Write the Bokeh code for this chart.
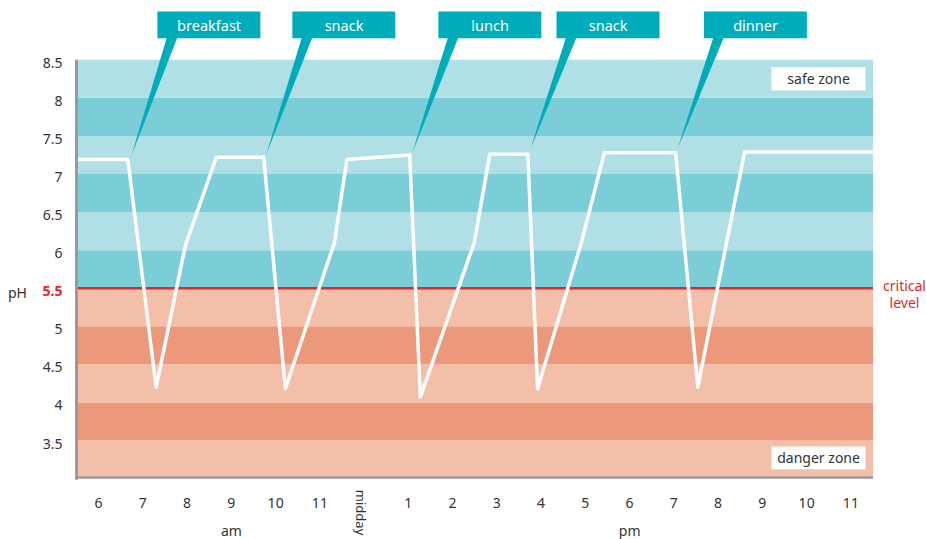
import math
from bokeh.plotting import figure
from bokeh.models import ColumnDataSource, Range1d
from bokeh.core.properties import value
from bokeh.embed import file_html
from bokeh.resources import INLINE

# ---------------- data ----------------
hours = [5.5, 6.66, 7.30, 7.96, 8.66, 9.73, 10.22, 11.33, 11.61, 13.03, 13.27,
         14.49, 14.84, 15.70, 15.92, 16.91, 17.43, 19.04, 19.54, 20.60, 23.5]
ph = [7.19, 7.19, 4.20, 6.06, 7.22, 7.22, 4.18, 6.10, 7.19, 7.25, 4.07,
      6.10, 7.26, 7.26, 4.18, 6.10, 7.28, 7.28, 4.20, 7.29, 7.29]

meal_names = ["breakfast", "snack", "lunch", "snack", "dinner"]
meal_times = [6.74, 9.79, 13.09, 15.76, 19.09]
meal_tip_ph = [7.24, 7.26, 7.28, 7.33, 7.34]

band_bottoms = [3.0, 3.5, 4.0, 4.5, 5.0, 5.5, 6.0, 6.5, 7.0, 7.5, 8.0]
band_tops = [3.5, 4.0, 4.5, 5.0, 5.5, 6.0, 6.5, 7.0, 7.5, 8.0, 8.5]
band_colors = ["#F4BFA8", "#EC987B", "#F4BFA8", "#EC987B", "#F4BFA8",
               "#7BCDD8", "#B0DFE6", "#7BCDD8", "#B0DFE6", "#7BCDD8", "#B0DFE6"]

x_start, x_end = 5.5, 23.5
y_start, y_end = 3.0, 8.5
critical_ph = 5.5

x_ticks = list(range(6, 24))
x_tick_labels = ["6", "7", "8", "9", "10", "11", "midday", "1", "2", "3", "4",
                 "5", "6", "7", "8", "9", "10", "11"]
y_ticks = [3.5, 4.0, 4.5, 5.0, 5.5, 6.0, 6.5, 7.0, 7.5, 8.0, 8.5]
y_tick_labels = ["3.5", "4", "4.5", "5", "5.5", "6", "6.5", "7", "7.5", "8", "8.5"]

period_labels = ["am", "pm"]
period_centers = [9, 18]

# ---------------- style ----------------
FONT = "Noto Sans"
TXT = "#333333"
RED = "#E3282C"
TEAL = "#00ACBA"
GRAY = "#9A9A9A"
PXH = 44.25   # pixels per hour
PXU = 76.15   # pixels per pH unit
W, H = 926, 539
X0PX, Y55PX = 76, 287.7   # canvas position of x_start and of pH 5.5

p = figure(width=W, height=H, output_backend="svg", toolbar_location=None,
           x_range=Range1d(x_start - X0PX / PXH, x_start + (W - X0PX) / PXH),
           y_range=Range1d(critical_ph - (H - Y55PX) / PXU, critical_ph + Y55PX / PXU),
           min_border=0, title=None)
p.outline_line_color = None
p.grid.visible = False
p.axis.visible = False
p.background_fill_color = "white"
p.border_fill_color = "white"

# bands
p.quad(left=[x_start] * len(band_bottoms), right=[x_end] * len(band_bottoms),
       bottom=band_bottoms, top=band_tops, fill_color=band_colors, line_color=None)

# critical line
p.segment(x0=[x_start], x1=[x_end], y0=[critical_ph], y1=[critical_ph],
          line_color=RED, line_width=2.5)

# pH curve
p.line(hours, ph, line_color="white", line_width=3.5, line_join="round")

# axis lines
p.segment(x0=[x_start], x1=[x_start], y0=[y_start - 1.2 / PXU], y1=[y_end],
          line_color=GRAY, line_width=3)
p.segment(x0=[x_start - 1.5 / PXH], x1=[x_end], y0=[y_start + 1.2 / PXU], y1=[y_start + 1.2 / PXU],
          line_color=GRAY, line_width=2.5)

# zone labels
zone_src = ColumnDataSource(dict(
    left=[21.206, 21.206], right=[23.33, 23.33], bottom=[8.096, 3.123], top=[8.402, 3.421],
    tx=[22.27, 22.27], ty=[8.249, 3.272], text=["safe zone", "danger zone"]))
p.quad(left="left", right="right", bottom="bottom", top="top", source=zone_src,
       fill_color="white", line_color=None)
p.text(x="tx", y="ty", text="text", source=zone_src, text_align="center",
       text_baseline="middle", text_color=TXT, text_font=value(FONT), text_font_size="14px")

# callouts
box_bottom, box_top = 8.783, 9.134
c_left = [t + 26 / PXH for t in meal_times]
c_right = [t + 129 / PXH for t in meal_times]
c_mid = [t + 77.7 / PXH for t in meal_times]
tri_xs = [[t, t + 35.7 / PXH, t + 46.3 / PXH] for t in meal_times]
tri_ys = [[tp, box_bottom + 0.02, box_bottom + 0.02] for tp in meal_tip_ph]
p.patches(xs=tri_xs, ys=tri_ys, fill_color=TEAL, line_color=None)
p.quad(left=c_left, right=c_right, bottom=[box_bottom] * 5, top=[box_top] * 5,
       fill_color=TEAL, line_color=None)
p.text(x=c_mid, y=[(box_bottom + box_top) / 2] * 5, text=meal_names, text_align="center",
       text_baseline="middle", text_color="white", text_font=value(FONT), text_font_size="14.5px")

# critical level label
crit_x = x_start + (904 - X0PX) / PXH
p.text(x=[crit_x, crit_x], y=[critical_ph, critical_ph], y_offset=[-3, 14],
       text=["critical", "level"], text_align="center", text_baseline="middle",
       text_color=RED, text_font=value(FONT), text_font_size="14px")

# y tick labels
ylab_x = x_start - 14 / PXH
y_other = [(t, l) for t, l in zip(y_ticks, y_tick_labels) if t != critical_ph]
p.text(x=[ylab_x] * len(y_other), y=[t for t, _ in y_other], text=[l for _, l in y_other],
       y_offset=3, text_align="right", text_baseline="middle", text_color=TXT,
       text_font=value(FONT), text_font_size="14px")
p.text(x=[ylab_x], y=[critical_ph], text=[y_tick_labels[y_ticks.index(critical_ph)]],
       y_offset=3, text_align="right", text_baseline="middle", text_color=RED,
       text_font_style="bold", text_font=value(FONT), text_font_size="14px")
p.text(x=[x_start - 59 / PXH], y=[critical_ph], text=["pH"], y_offset=4,
       text_align="center", text_baseline="middle", text_color=TXT,
       text_font=value(FONT), text_font_size="14px")

# x tick labels
x_other = [(t, l) for t, l in zip(x_ticks, x_tick_labels) if l != "midday"]
xlab_y = y_start - 24 / PXU
p.text(x=[t for t, _ in x_other], y=[xlab_y] * len(x_other), text=[l for _, l in x_other],
       text_align="center", text_baseline="middle", text_color=TXT,
       text_font=value(FONT), text_font_size="14px")
noon = x_ticks[x_tick_labels.index("midday")]
p.text(x=[noon], y=[y_start - 34 / PXU], text=["midday"], x_offset=-3, angle=-math.pi / 2,
       text_align="center", text_baseline="middle", text_color=TXT,
       text_font=value(FONT), text_font_size="13px")
p.text(x=period_centers, y=[y_start - 52 / PXU] * 2, text=period_labels,
       text_align="center", text_baseline="middle", text_color=TXT,
       text_font=value(FONT), text_font_size="14px")

open("out.html", "w").write(file_html(p, INLINE))
